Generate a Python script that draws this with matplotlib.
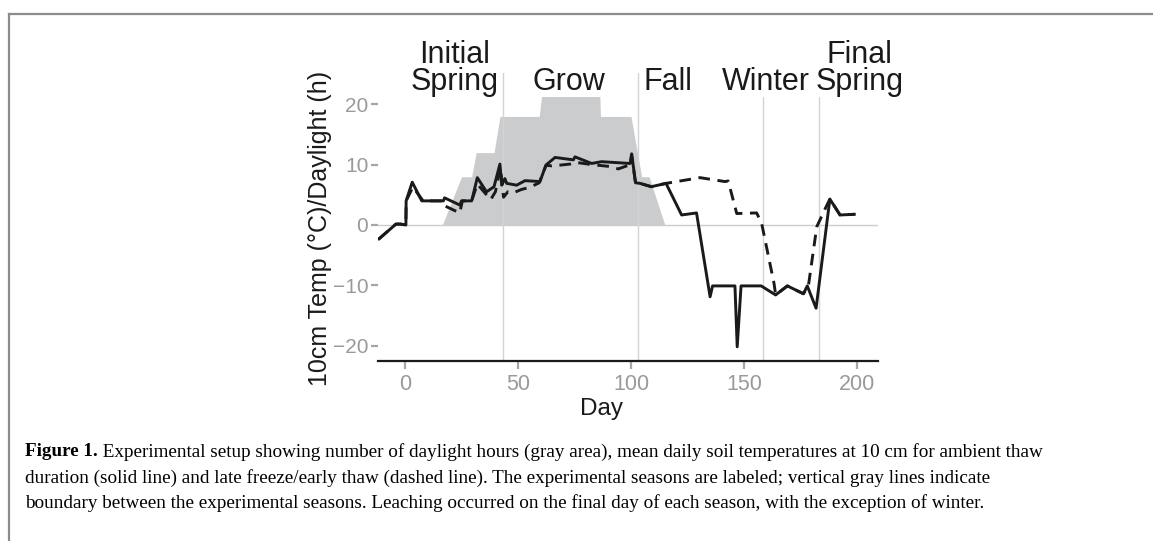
import matplotlib
matplotlib.use("Agg")
import matplotlib.pyplot as plt
from matplotlib.lines import Line2D

# ---- data ----
daylight_day = [16.5, 25, 29.5, 31.5, 39.4, 42, 59.4, 61.2, 86, 86.5, 100, 104.7, 108, 115]
daylight_hours = [0, 8, 8, 12, 12, 18, 18, 24, 24, 18, 18, 8, 8, 0]

ambient_day = [-11.5, -4, -2, 0.4, 0.5, 3.2, 7.4, 17, 17.5, 24.3, 25, 29.5, 32, 36.1,
               39.4, 42, 42.8, 44.2, 45, 49.4, 53.1, 59.7, 62.4, 66.4, 74.5, 75.2,
               82.6, 87, 99.6, 100.3, 102, 104, 109, 115.5, 122.4, 129, 135, 136.1,
               146, 147, 148.7, 157.6, 164, 169.2, 176.3, 178, 181.9, 188, 192.5, 198.8]
ambient_temp = [-2.3, 0.15, 0.15, 0, 4.0, 7.1, 4.0, 4.0, 4.5, 3.3, 4.0, 4.0, 7.85, 5.5,
                6.35, 10.1, 6.6, 7.7, 6.9, 6.6, 7.35, 7.2, 9.95, 11.2, 10.8, 11.3,
                10.2, 10.5, 10.2, 11.8, 7.0, 6.9, 6.35, 6.9, 1.66, 2.0, -11.9, -10.1,
                -10.1, -20.2, -10.1, -10.1, -11.6, -10.1, -11.4, -10.1, -13.8, 4.3, 1.66, 1.77]

late_day = [-11.5, -4, -2, 0.4, 0.5, 3.5, 8, 17, 18, 24.2, 25.4, 29.5, 32, 37.9, 40,
            42.2, 43.6, 45.5, 47.7, 51.6, 55.3, 59.4, 62.4, 64.9, 69.3, 73, 75.2,
            83, 90.7, 94.4, 99.6, 100.3, 102, 104, 109, 115.5, 130.5, 141.6, 143,
            146.8, 155.6, 157.8, 163.3, 164, 169.2, 176.3, 178.5, 182.2, 185.8, 188, 192.5, 198.8]
late_temp = [-2.3, 0.15, 0.15, 0, 4.0, 6.3, 4.0, 4.0, 3.1, 2.0, 4.0, 4.0, 6.8, 4.2, 5.5,
             9.5, 4.6, 5.5, 5.3, 5.9, 6.25, 7.0, 9.9, 9.8, 9.95, 10.1, 10.4,
             10.0, 9.7, 9.3, 10.0, 11.5, 7.0, 6.9, 6.35, 6.9, 7.85, 7.2, 7.3,
             1.9, 2.0, 0.3, -9.7, -11.6, -10.1, -11.4, -10.1, -0.3, 2.6, 4.3, 1.66, 1.77]

season_bounds = [43.5, 103.3, 158.2, 183.2]
season_labels = ["Initial\nSpring", "Grow", "Fall", "Winter", "Final\nSpring"]
season_label_x = [22, 72.7, 116.4, 159.5, 201]

x_ticks = [0, 50, 100, 150, 200]
y_ticks = [-20, -10, 0, 10, 20]

caption_lines = [
    ("Figure 1.", " Experimental setup showing number of daylight hours (gray area), mean daily soil temperatures at 10 cm for ambient thaw"),
    ("", "duration (solid line) and late freeze/early thaw (dashed line). The experimental seasons are labeled; vertical gray lines indicate"),
    ("", "boundary between the experimental seasons. Leaching occurred on the final day of each season, with the exception of winter."),
]

# ---- figure ----
plt.rcParams['font.family'] = ['Liberation Sans', 'DejaVu Sans']
W, H = 1153, 541
fig = plt.figure(figsize=(W/100, H/100), dpi=100)
left_px, right_px, top_px, bot_px = 378, 878, 73, 361
ax = fig.add_axes([left_px/W, 1-bot_px/H, (right_px-left_px)/W, (bot_px-top_px)/H])

ax.set_xlim((left_px-405)/2.26, 209.3)
ax.set_ylim(-22.55, 25.2)

ax.fill_between(daylight_day, 0, daylight_hours, color='#cbcccd', lw=0, zorder=1)
ax.axhline(0, color='#cccccc', lw=1.0, zorder=2)
for b in season_bounds:
    ax.axvline(b, color='#d3d3d3', lw=1.0, zorder=2)

ax.plot(late_day, late_temp, color='#1a1a1a', lw=2.1, ls=(0, (4.0, 2.6)), zorder=3)
ax.plot(ambient_day, ambient_temp, color='#1a1a1a', lw=2.1, zorder=4)

for lab, xv in zip(season_labels, season_label_x):
    ax.text(xv, 21.3, lab, ha='center', va='bottom', fontsize=22, color='#1a1a1a',
            linespacing=0.85, zorder=6, clip_on=False,
            bbox=dict(facecolor='white', edgecolor='none', pad=0.0))

for s in ['top', 'right', 'left']:
    ax.spines[s].set_visible(False)
ax.spines['bottom'].set_color('#1a1a1a')
ax.spines['bottom'].set_linewidth(1.6)
ax.set_xticks(x_ticks)
ax.set_yticks(y_ticks)
ax.set_yticklabels(['\u221220', '\u221210', '0', '10', '20'])
ax.tick_params(axis='both', colors='#a6a6a6', labelcolor='#9a9a9a', labelsize=15.5,
               length=6, width=1.6, pad=3)
ax.tick_params(axis='y', length=5, pad=2, labelsize=15)
ax.set_xlabel('Day', fontsize=17.5, color='#1a1a1a')
ax.set_ylabel('10cm Temp (\u00b0C)/Daylight (h)', fontsize=18, color='#1a1a1a')
ax.xaxis.set_label_coords(601/W, 1-409/H, transform=fig.transFigure)
ax.yaxis.set_label_coords(320/W, 1-228/H, transform=fig.transFigure)
ax.xaxis.label.set_va('center')
ax.yaxis.label.set_va('center')

# frame lines
fig.add_artist(Line2D([9/W, 9/W], [0, 1-14/H], transform=fig.transFigure,
                      color='#8c8c8c', lw=1.6))
fig.add_artist(Line2D([9/W, 1], [1-14/H, 1-14/H], transform=fig.transFigure,
                      color='#8c8c8c', lw=1.6))

# caption
ys = [452, 478, 503]
cap_fs = 13.75
for (bold, rest), yp in zip(caption_lines, ys):
    if bold:
        t = fig.text(25/W, 1-yp/H, bold, fontsize=cap_fs, fontweight='bold',
                     family='Liberation Serif', va='center', ha='left')
        fig.canvas.draw()
        bb = t.get_window_extent()
        fig.text(bb.x1/W, 1-yp/H, rest, fontsize=cap_fs, family='Liberation Serif',
                 va='center', ha='left')
    else:
        fig.text(25/W, 1-yp/H, rest, fontsize=cap_fs, family='Liberation Serif',
                 va='center', ha='left')

fig.savefig('out.png', dpi=100)
